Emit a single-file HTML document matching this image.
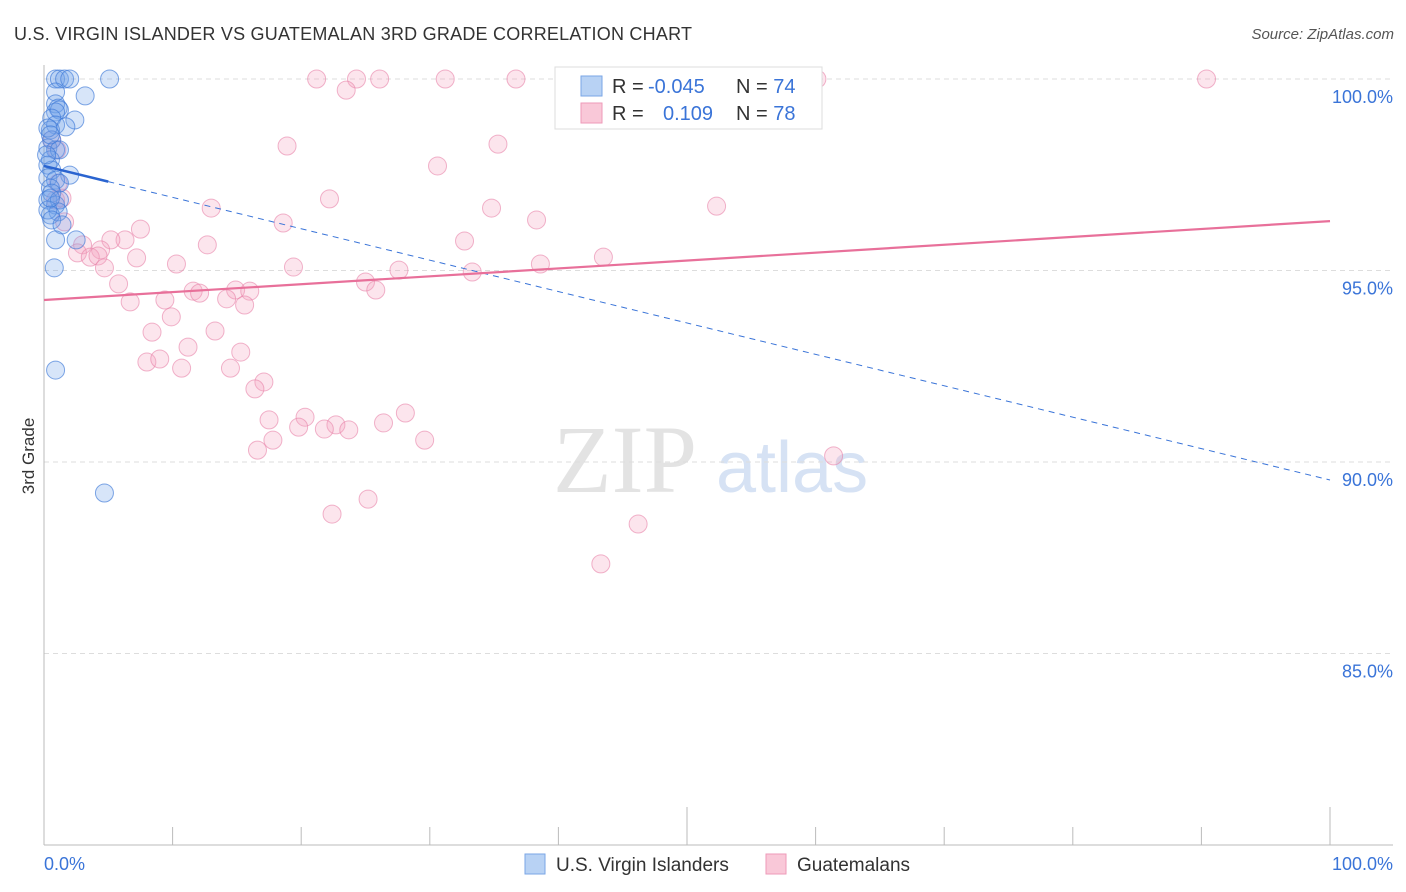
<!DOCTYPE html>
<html><head><meta charset="utf-8"><style>
body{margin:0;background:#fff;font-family:"Liberation Sans",sans-serif;}
svg{display:block}
</style></head><body>
<svg id="chart" width="1406" height="892">
<text x="14" y="40" font-size="18" fill="#333" textLength="678">U.S. VIRGIN ISLANDER VS GUATEMALAN 3RD GRADE CORRELATION CHART</text>
<text x="1394" y="39" font-size="15" fill="#555" font-style="italic" text-anchor="end">Source: ZipAtlas.com</text>
<text x="34" y="456" font-size="17" fill="#333" text-anchor="middle" transform="rotate(-90 34 456)">3rd Grade</text>
<g>
<text x="553" y="492" font-size="96" fill="#e3e3e3" font-family="Liberation Serif,serif">ZIP</text>
<text x="716" y="492" font-size="72" fill="#d6e2f4">atlas</text>
</g>
<g id="grid"></g><g id="axes"></g><g id="pts"></g><g id="lines"></g>
<g>
<rect x="555" y="67" width="267" height="62" fill="#fff" stroke="#ddd"/>
<rect x="581" y="76" width="21" height="20" fill="#b8d2f4" stroke="#7aa6e6"/>
<rect x="581" y="103" width="21" height="20" fill="#f9c8d8" stroke="#ee9ab8"/>
<text x="612" y="93" font-size="20" fill="#333">R = <tspan fill="#3a74d8" x="648">-0.045</tspan></text>
<text x="736" y="93" font-size="20" fill="#333">N = <tspan fill="#3a74d8">74</tspan></text>
<text x="612" y="120" font-size="20" fill="#333">R = <tspan fill="#3a74d8" x="663">0.109</tspan></text>
<text x="736" y="120" font-size="20" fill="#333">N = <tspan fill="#3a74d8">78</tspan></text>
</g>
<g>
<rect x="525" y="854" width="20" height="20" fill="#b8d2f4" stroke="#7aa6e6"/>
<text x="556" y="871" font-size="19" fill="#333">U.S. Virgin Islanders</text>
<rect x="766" y="854" width="20" height="20" fill="#f9c8d8" stroke="#ee9ab8"/>
<text x="797" y="871" font-size="19" fill="#333">Guatemalans</text>
</g>
</svg>
<script>
const yTicks=[100,95,90,85];
const yTickLabels=["100.0%","95.0%","90.0%","85.0%"];
const blueX=[0.9,1.2,1.6,2.0,5.1,0.9,3.2,0.9,1.1,1.2,0.9,2.4,0.6,0.9,1.7,0.5,0.6,0.3,0.9,1.2,0.5,0.3,0.6,2.0,0.3,0.9,1.2,0.5,0.6,0.3,0.9,1.2,1.1,0.5,0.3,0.6,1.4,0.9,2.5,0.8,0.9,4.7,0.3,0.5,0.2,0.5];
const blueY=[100,100,100,100,100,99.66,99.56,99.35,99.24,99.19,99.14,98.93,98.98,98.8,98.75,98.67,98.41,98.2,98.15,98.15,97.89,97.75,97.62,97.49,97.42,97.36,97.28,97.15,97.02,96.84,96.71,96.84,96.53,96.45,96.58,96.32,96.19,95.8,95.8,95.07,92.4,89.19,98.72,98.54,98.02,96.89];
const pinkX=[21.2,24.3,26.1,31.2,36.7,58.8,60.1,90.4,23.5,18.9,35.3,30.6,22.2,13.0,52.3,34.8,18.6,38.3,7.5,1.6,1.1,1.0,0.6,0.9,1.4,32.7,6.3,5.2,4.4,3.0,2.6,3.6,4.2,7.2,12.7,19.4,10.3,27.6,38.6,43.5,33.3,4.7,5.8,25.0,25.8,11.6,12.1,14.9,16.0,14.2,15.6,9.4,6.7,9.9,8.4,13.3,11.2,15.3,8.0,9.0,10.7,14.5,17.1,16.4,17.5,20.3,28.1,19.8,22.7,26.4,21.8,23.7,17.8,16.6,29.6,61.4,25.2,22.4,46.2,43.3];
const pinkY=[100,100,100,100,100,100,100,100,99.71,98.25,98.3,97.73,96.87,96.63,96.68,96.63,96.24,96.32,96.08,96.27,97.28,98.15,98.41,96.84,96.89,95.77,95.8,95.8,95.54,95.67,95.46,95.35,95.38,95.33,95.67,95.09,95.17,95.01,95.17,95.35,94.96,95.07,94.65,94.7,94.49,94.46,94.41,94.49,94.46,94.26,94.1,94.23,94.18,93.79,93.39,93.42,93.0,92.87,92.61,92.69,92.45,92.45,92.09,91.91,91.1,91.17,91.28,90.91,90.97,91.02,90.86,90.84,90.57,90.31,90.57,90.16,89.03,88.64,88.38,87.34];
const blueTrend=[97.73,89.53];
const pinkTrend=[94.23,96.29];
const NS="http://www.w3.org/2000/svg";
const X=v=>44+v*12.86, Y=v=>79+(100-v)*38.3;
function mk(t,a,p){const e=document.createElementNS(NS,t);for(const k in a)e.setAttribute(k,a[k]);p.appendChild(e);return e;}
const grid=document.getElementById('grid'),axes=document.getElementById('axes'),pts=document.getElementById('pts'),lines=document.getElementById('lines');
yTicks.forEach((t,i)=>{
 const g=mk('line',{x1:44,x2:1393,y1:Y(t),y2:Y(t),stroke:'#ddd','stroke-dasharray':'5,4'},grid);
 
 
 const l=mk('text',{x:1393,y:Y(t)+24,'font-size':18,fill:'#3a74d8','text-anchor':'end'},grid);
 l.textContent=yTickLabels[i];
 
 
});
const a1=mk('line',{x1:44,x2:44,y1:65,y2:845,stroke:'#bbb'},axes);


const a2=mk('line',{x1:44,x2:1393,y1:845,y2:845,stroke:'#bbb'},axes);


for(let i=1;i<=10;i++){
 const tk=mk('line',{x1:X(i*10),x2:X(i*10),y1:(i==5||i==10)?807:827,y2:845,stroke:'#bbb'},axes);
 
 
}
const xl0=mk('text',{x:44,y:870,'font-size':18,fill:'#3a74d8'},axes);xl0.textContent='0.0%';


const xl1=mk('text',{x:1393,y:870,'font-size':18,fill:'#3a74d8','text-anchor':'end'},axes);xl1.textContent='100.0%';


pinkX.forEach((v,i)=>{
 const c=mk('circle',{cx:X(v),cy:Y(pinkY[i]),r:9,fill:'rgba(244,160,190,0.28)',stroke:'rgba(232,130,168,0.6)','stroke-width':1},pts);
 
 
});
blueX.forEach((v,i)=>{
 const c=mk('circle',{cx:X(v),cy:Y(blueY[i]),r:9,fill:'rgba(110,160,235,0.28)',stroke:'rgba(60,120,215,0.65)','stroke-width':1},pts);
 
 
});
const bAt=x=>blueTrend[0]+(blueTrend[1]-blueTrend[0])*x/100;
const bd=mk('line',{x1:X(5),y1:Y(bAt(5)),x2:X(100),y2:Y(bAt(100)),stroke:'#3a74d8','stroke-width':1,'stroke-dasharray':'6,5'},lines);


const bs=mk('line',{x1:X(0),y1:Y(bAt(0)),x2:X(5),y2:Y(bAt(5)),stroke:'#2a64d0','stroke-width':2.5},lines);


const pl=mk('line',{x1:X(0),y1:Y(pinkTrend[0]),x2:X(100),y2:Y(pinkTrend[1]),stroke:'#e8709a','stroke-width':2.2},lines);


</script>
</body></html>
